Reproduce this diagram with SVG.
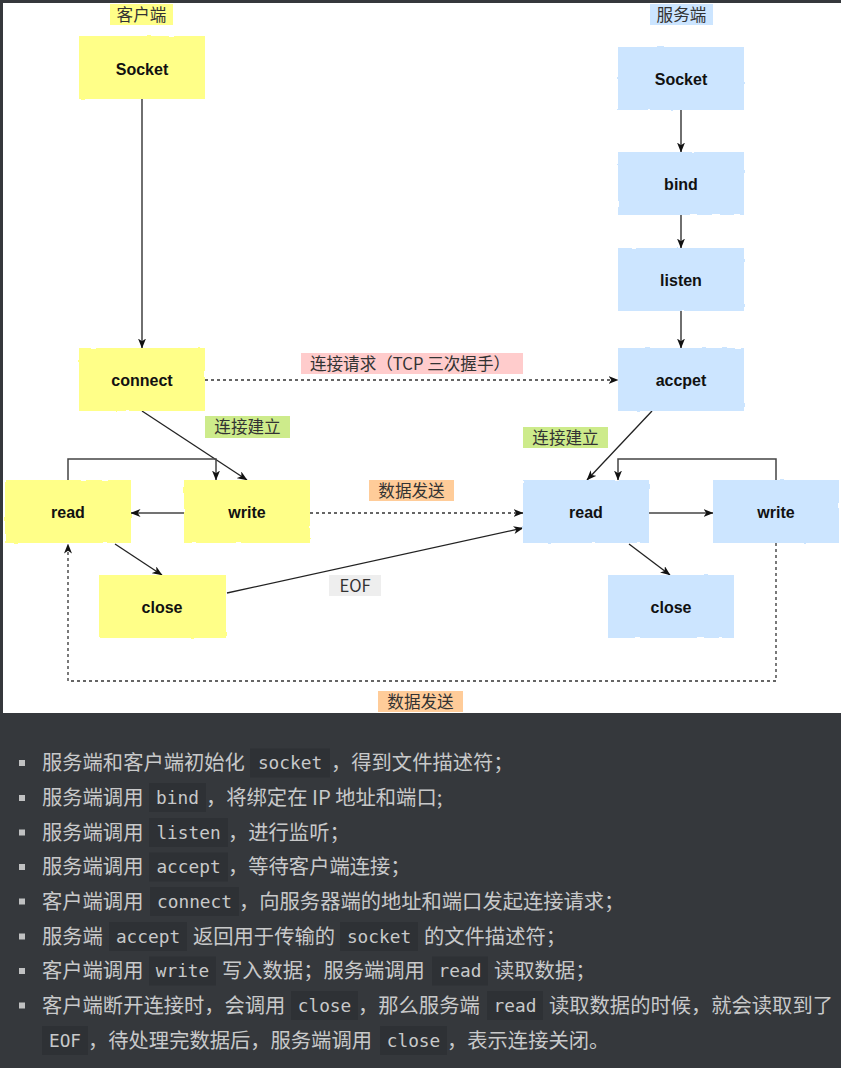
<svg xmlns="http://www.w3.org/2000/svg" width="841" height="1068" viewBox="0 0 841 1068">
<defs>
<style>
.node-y{fill:#ffff88;}
.node-b{fill:#cce5ff;}
.nt{font-family:"Liberation Sans",Arial,sans-serif;font-weight:bold;font-size:16px;fill:#111;text-anchor:middle;}
.lbl{font-family:"Noto Sans CJK SC",sans-serif;font-size:16.6px;fill:#333;text-anchor:middle;}
.ln{fill:none;stroke:#222;stroke-width:1.3;}
.lg{fill:none;stroke:#444;stroke-width:1.5;}
.ds{fill:none;stroke:#333;stroke-width:1.3;stroke-dasharray:3 3;}
.bt{font-family:"Noto Sans CJK SC",sans-serif;font-size:20.3px;fill:#c8c9ca;}
.cd{font-family:"DejaVu Sans Mono",monospace;font-size:17.8px;fill:#c8c9ca;text-anchor:middle;}
.cb{fill:#2e3135;}
.bl{fill:#c0c1c2;}
</style>
<filter id="rough" x="-5%" y="-10%" width="110%" height="120%">
<feTurbulence type="fractalNoise" baseFrequency="0.09" numOctaves="1" seed="4"/>
<feDisplacementMap in="SourceGraphic" scale="2.5" xChannelSelector="R" yChannelSelector="G"/>
</filter>
<marker id="arr" viewBox="0 0 10 8" refX="9.5" refY="4" markerWidth="10" markerHeight="8" markerUnits="userSpaceOnUse" orient="auto">
<path d="M0,0 L10,4 L0,8 L2.8,4 Z" fill="#111"/>
</marker>
</defs>

<rect x="0" y="0" width="841" height="1068" fill="#35383c"/>
<rect x="3" y="3" width="838" height="710" fill="#ffffff"/>

<g id="connectors">
<path class="ln" d="M142,99 V348" marker-end="url(#arr)"/>
<path class="ln" d="M681,110 V152" marker-end="url(#arr)"/>
<path class="ln" d="M681,215 V248" marker-end="url(#arr)"/>
<path class="ln" d="M681,311 V348" marker-end="url(#arr)"/>
<path class="ds" d="M205,380 H618" marker-end="url(#arr)"/>
<path class="ln" d="M142,411 L247,480" marker-end="url(#arr)"/>
<path class="lg" d="M68,480 V459 H216 V480" marker-end="url(#arr)"/>
<path class="lg" d="M184,513 H131" marker-end="url(#arr)"/>
<path class="ln" d="M115,544 L162,575" marker-end="url(#arr)"/>
<path class="ln" d="M227,593 L523,528" marker-end="url(#arr)"/>
<path class="ds" d="M310,513 H523" marker-end="url(#arr)"/>
<path class="ln" d="M652,411 L587,480" marker-end="url(#arr)"/>
<path class="lg" d="M649,513 H713" marker-end="url(#arr)"/>
<path class="lg" d="M776,480 V459 H618 V480" marker-end="url(#arr)"/>
<path class="ln" d="M629,544 L670,575" marker-end="url(#arr)"/>
<path class="ds" d="M776,543 V681 H68 V544" marker-end="url(#arr)"/>
</g>

<g id="label-client"><rect x="110" y="4" width="63" height="21" fill="#ffff88"/><text class="lbl" x="141.5" y="20.5">客户端</text></g>
<g id="label-server"><rect x="650" y="4" width="63" height="21" fill="#cce5ff"/><text class="lbl" x="681.5" y="20.5">服务端</text></g>
<g id="label-tcp"><rect x="301" y="353" width="222" height="21" fill="#ffcccc"/><text class="lbl" x="410" y="369.5">连接请求（TCP 三次握手）</text></g>
<g id="label-est1"><rect x="205" y="416" width="85" height="22" fill="#cdeb8b"/><text class="lbl" x="247.5" y="433">连接建立</text></g>
<g id="label-est2"><rect x="523" y="427" width="85" height="21" fill="#cdeb8b"/><text class="lbl" x="565.5" y="443.5">连接建立</text></g>
<g id="label-send1"><rect x="369" y="480" width="85" height="21" fill="#ffcc99"/><text class="lbl" x="411.5" y="496.5">数据发送</text></g>
<g id="label-eof"><rect x="329" y="575" width="52" height="21" fill="#eeeeee"/><text class="lbl" x="355" y="591.5">EOF</text></g>
<g id="label-send2"><rect x="378" y="691" width="85" height="21" fill="#ffcc99"/><text class="lbl" x="420.5" y="707.5">数据发送</text></g>

<g id="c-socket"><rect class="node-y" x="79" y="36" width="126" height="63" filter="url(#rough)"/><text class="nt" x="142" y="75">Socket</text></g>
<g id="c-connect"><rect class="node-y" x="79" y="348" width="126" height="63" filter="url(#rough)"/><text class="nt" x="142" y="386">connect</text></g>
<g id="c-read"><rect class="node-y" x="5" y="480" width="126" height="63" filter="url(#rough)"/><text class="nt" x="68" y="518">read</text></g>
<g id="c-write"><rect class="node-y" x="184" y="480" width="126" height="63" filter="url(#rough)"/><text class="nt" x="247" y="518">write</text></g>
<g id="c-close"><rect class="node-y" x="99" y="575" width="127" height="63" filter="url(#rough)"/><text class="nt" x="162" y="613">close</text></g>

<g id="s-socket"><rect class="node-b" x="618" y="47" width="126" height="63" filter="url(#rough)"/><text class="nt" x="681" y="85">Socket</text></g>
<g id="s-bind"><rect class="node-b" x="618" y="152" width="126" height="63" filter="url(#rough)"/><text class="nt" x="681" y="190">bind</text></g>
<g id="s-listen"><rect class="node-b" x="618" y="248" width="126" height="63" filter="url(#rough)"/><text class="nt" x="681" y="286">listen</text></g>
<g id="s-accpet"><rect class="node-b" x="618" y="348" width="126" height="63" filter="url(#rough)"/><text class="nt" x="681" y="386">accpet</text></g>
<g id="s-read"><rect class="node-b" x="523" y="480" width="126" height="63" filter="url(#rough)"/><text class="nt" x="586" y="518">read</text></g>
<g id="s-write"><rect class="node-b" x="713" y="480" width="126" height="63" filter="url(#rough)"/><text class="nt" x="776" y="518">write</text></g>
<g id="s-close"><rect class="node-b" x="608" y="575" width="126" height="63" filter="url(#rough)"/><text class="nt" x="671" y="613">close</text></g>

<g id="notes">
<rect class="bl" x="19" y="760" width="6" height="6"/>
<text class="bt" x="42" y="770">服务端和客户端初始化</text>
<rect class="cb" x="250" y="748.5" width="80" height="29"/><text class="cd" x="290" y="769">socket</text>
<text class="bt" x="331" y="770">，得到文件描述符；</text>

<rect class="bl" x="19" y="795" width="6" height="6"/>
<text class="bt" x="42" y="805">服务端调用</text>
<rect class="cb" x="149" y="783" width="57" height="29"/><text class="cd" x="177.5" y="804">bind</text>
<text class="bt" x="206" y="805">，将绑定在 IP 地址和端口;</text>

<rect class="bl" x="19" y="829.5" width="6" height="6"/>
<text class="bt" x="42" y="839.5">服务端调用</text>
<rect class="cb" x="149" y="818" width="79" height="29"/><text class="cd" x="188.5" y="838.5">listen</text>
<text class="bt" x="228" y="839.5">，进行监听；</text>

<rect class="bl" x="19" y="864" width="6" height="6"/>
<text class="bt" x="42" y="874">服务端调用</text>
<rect class="cb" x="149" y="852.5" width="79" height="29"/><text class="cd" x="188.5" y="873">accept</text>
<text class="bt" x="228" y="874">，等待客户端连接；</text>

<rect class="bl" x="19" y="898.5" width="6" height="6"/>
<text class="bt" x="42" y="908.5">客户端调用</text>
<rect class="cb" x="150" y="887" width="89" height="29"/><text class="cd" x="194.5" y="907.5">connect</text>
<text class="bt" x="239" y="908.5">，向服务器端的地址和端口发起连接请求；</text>

<rect class="bl" x="19" y="933.5" width="6" height="6"/>
<text class="bt" x="42" y="943.5">服务端</text>
<rect class="cb" x="109" y="922" width="78" height="29"/><text class="cd" x="148" y="942.5">accept</text>
<text class="bt" x="193" y="943.5">返回用于传输的</text>
<rect class="cb" x="340" y="922" width="78" height="29"/><text class="cd" x="379" y="942.5">socket</text>
<text class="bt" x="424" y="943.5">的文件描述符；</text>

<rect class="bl" x="19" y="968" width="6" height="6"/>
<text class="bt" x="42" y="978">客户端调用</text>
<rect class="cb" x="149" y="956.5" width="67" height="29"/><text class="cd" x="182.5" y="977">write</text>
<text class="bt" x="222" y="978">写入数据；服务端调用</text>
<rect class="cb" x="432" y="956.5" width="56" height="29"/><text class="cd" x="460" y="977">read</text>
<text class="bt" x="494" y="978">读取数据；</text>

<rect class="bl" x="19" y="1002.5" width="6" height="6"/>
<text class="bt" x="42" y="1012.5">客户端断开连接时，会调用</text>
<rect class="cb" x="291" y="991" width="67" height="29"/><text class="cd" x="324.5" y="1011.5">close</text>
<text class="bt" x="358" y="1012.5">，那么服务端</text>
<rect class="cb" x="487" y="991" width="56" height="29"/><text class="cd" x="515" y="1011.5">read</text>
<text class="bt" x="549" y="1012.5">读取数据的时候，就会读取到了</text>

<rect class="cb" x="42" y="1026" width="46" height="29"/><text class="cd" x="65" y="1046.5">EOF</text>
<text class="bt" x="88" y="1047.5">，待处理完数据后，服务端调用</text>
<rect class="cb" x="380" y="1026" width="67" height="29"/><text class="cd" x="413.5" y="1046.5">close</text>
<text class="bt" x="447" y="1047.5">，表示连接关闭。</text>
</g>
</svg>
